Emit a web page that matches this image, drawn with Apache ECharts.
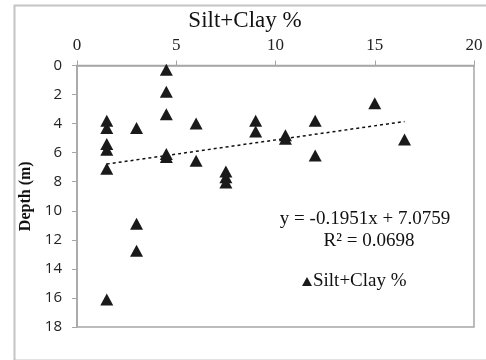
<!DOCTYPE html>
<html>
<head>
<meta charset="utf-8">
<script src="https://cdn.jsdelivr.net/npm/echarts@6/dist/echarts.min.js"></script>
<style>
  html, body { margin: 0; padding: 0; background: #fff; }
  #chart { width: 486px; height: 360px; }
</style>
</head>
<body>
<div id="chart"></div>
<script>
// Silt+clay content versus sampling depth
const siltClay = [1.5, 1.5, 1.5, 1.5, 1.5, 1.5, 3, 3, 3, 4.5, 4.5, 4.5, 4.5, 4.5, 6, 6, 7.5, 7.5, 7.5, 9, 9, 10.5, 10.5, 12, 12, 15, 16.5];
const depth = [3.8, 4.3, 5.4, 5.8, 7.1, 16.1, 4.3, 10.9, 12.75, 0.3, 1.8, 3.35, 6.1, 6.3, 4.0, 6.55, 7.3, 7.7, 8.05, 3.8, 4.55, 4.8, 5.05, 3.8, 6.2, 2.6, 5.1];

// Linear trend fitted to the samples
const slope = -0.1951;
const intercept = 7.0759;
const rSquared = 0.0698;

const xMin = Math.min(...siltClay);
const xMax = Math.max(...siltClay);
const trend = [xMin, xMax].map(x => [x, slope * x + intercept]);
const points = siltClay.map((x, i) => [x, depth[i]]);

const serif = '"Liberation Serif", "Times New Roman", serif';
const sans = '"Open Sans", "Liberation Sans", sans-serif';

const chart = echarts.init(document.getElementById('chart'), null, { renderer: 'canvas' });
chart.setOption({
  animation: false,
  backgroundColor: '#fff',
  grid: { left: 77, right: 12, top: 65.5, bottom: 33, show: true, borderColor: '#a6a6a6', borderWidth: 1.5 },
  legend: {
    data: [{ name: 'Silt+Clay %', icon: 'triangle' }],
    left: 297, top: 267,
    itemWidth: 10, itemHeight: 9, itemGap: 0,
    textStyle: { fontFamily: serif, fontSize: 19, color: '#111', padding: [0, 0, 0, -4] }
  },
  xAxis: {
    type: 'value', position: 'top', min: 0, max: 20, interval: 5,
    axisLine: { show: true, lineStyle: { color: '#a6a6a6', width: 1.5 } },
    axisTick: { show: true, inside: false, length: 5, lineStyle: { color: '#a6a6a6' } },
    axisLabel: { fontFamily: serif, fontSize: 17, color: '#222', margin: 11 },
    splitLine: { show: false }
  },
  yAxis: {
    type: 'value', inverse: true, min: 0, max: 18, interval: 2,
    name: 'Depth (m)', nameLocation: 'middle', nameGap: 37, nameRotate: 90,
    nameTextStyle: { fontFamily: serif, fontSize: 16, fontWeight: 'bold', color: '#111' },
    axisLine: { show: true, lineStyle: { color: '#a6a6a6', width: 1.5 } },
    axisTick: { show: true, inside: false, length: 5, lineStyle: { color: '#a6a6a6' } },
    axisLabel: { fontFamily: sans, fontSize: 15, color: '#222', margin: 15 },
    splitLine: { show: false }
  },
  graphic: [
    {
      type: 'rect', left: 12, top: 3, silent: true,
      shape: { width: 500, height: 355 },
      style: { fill: 'none', stroke: '#c4c4c4', lineWidth: 2 }
    },
    {
      type: 'text', x: 245, y: 21,
      style: {
        text: 'Silt+Clay %', font: '23px ' + serif, fill: '#111',
        align: 'center', verticalAlign: 'middle'
      }
    },
    {
      type: 'text', x: 365, y: 219,
      style: {
        text: 'y = ' + slope.toFixed(4) + 'x + ' + intercept.toFixed(4),
        font: '19px ' + serif, fill: '#111',
        align: 'center', verticalAlign: 'middle'
      }
    },
    {
      type: 'text', x: 369, y: 241,
      style: {
        text: 'R² = ' + rSquared.toFixed(4),
        font: '19px ' + serif, fill: '#111',
        align: 'center', verticalAlign: 'middle'
      }
    }
  ],
  series: [
    {
      name: 'Silt+Clay %', type: 'scatter', data: points,
      symbol: 'triangle', symbolSize: [13, 12],
      itemStyle: { color: '#1a1a1a', opacity: 1 },
      z: 3
    },
    {
      name: 'Linear trend', type: 'line', data: trend,
      symbol: 'none', silent: true,
      lineStyle: { color: '#111', width: 1.5, type: [3, 3] },
      z: 2
    }
  ]
});
</script>
</body>
</html>
